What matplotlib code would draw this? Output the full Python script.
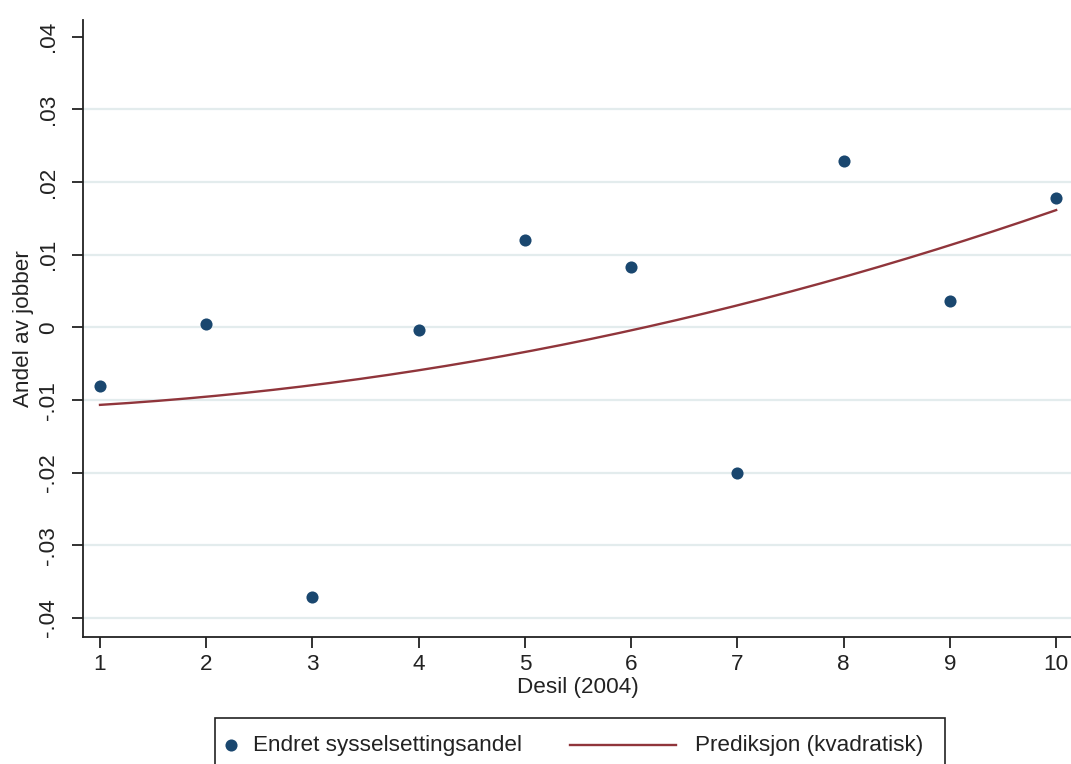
import numpy as np
import matplotlib
matplotlib.use("Agg")
import matplotlib.pyplot as plt
from matplotlib.lines import Line2D
from matplotlib.patches import Rectangle

plt.rcParams['font.family'] = ['Liberation Sans', 'DejaVu Sans']

# Data
deciles = [1, 2, 3, 4, 5, 6, 7, 8, 9, 10]
share_change = [-0.0080, 0.0005, -0.0371, -0.0004, 0.0120, 0.0083, -0.0200, 0.0229, 0.0036, 0.0178]
y_ticks = [-0.04, -0.03, -0.02, -0.01, 0.0, 0.01, 0.02, 0.03, 0.04]
y_ticklabels = ['-.04', '-.03', '-.02', '-.01', '0', '.01', '.02', '.03', '.04']
x_ticks = deciles

dot_color = '#1a476f'
line_color = '#90353b'
grid_color = '#e3eced'
text_color = '#222222'
FS = 16.2

fig = plt.figure(figsize=(10.71, 7.64), dpi=100)
ax = fig.add_axes([83/1071, 127/764, 1 - 83/1071 + 0.002, (637-20)/764])

# quadratic prediction
coef = np.polyfit(deciles, share_change, 2)
xs = np.linspace(1, 10, 200)
ax.plot(xs, np.polyval(coef, xs), color=line_color, lw=1.7, zorder=3)
ax.scatter(deciles, share_change, s=76, color=dot_color, zorder=4, linewidths=0)

ax.set_xlim(0.84, 10.16)
ax.set_ylim(-0.0426, 0.0423)
ax.set_yticks(y_ticks)
ax.set_yticklabels(y_ticklabels, rotation=90, va='center')
ax.set_xticks(x_ticks)
ax.set_xticklabels([str(v) for v in x_ticks])
for t in y_ticks:
    if t != 0.04:
        ax.axhline(t, color=grid_color, lw=1.6, zorder=1)

for s in ['top', 'right']:
    ax.spines[s].set_visible(False)
for s in ['left', 'bottom']:
    ax.spines[s].set_linewidth(1.3)
    ax.spines[s].set_color(text_color)
ax.tick_params(axis='both', direction='out', length=8, width=1.3, color=text_color,
               labelsize=FS, labelcolor=text_color)
ax.tick_params(axis='y', pad=9)
ax.tick_params(axis='x', pad=4.5)

ax.set_xlabel('Desil (2004)', fontsize=FS, color=text_color, labelpad=1.5)
ax.set_ylabel('Andel av jobber', fontsize=FS, color=text_color, labelpad=3)

# Legend (drawn manually to match the layout)
W, H = 1071, 764
def fx(px): return px / W
def fy(py): return 1 - py / H
fig.patches.append(Rectangle((fx(215), fy(790)), fx(945) - fx(215), fy(718) - fy(790),
                             transform=fig.transFigure, fill=False, ec=text_color, lw=1.2))
fig.lines.append(Line2D([fx(231)], [fy(745)], transform=fig.transFigure, marker='o',
                        ms=8.7, color=dot_color, mec=dot_color, mew=0, ls='none'))
fig.text(fx(253), fy(745), 'Endret sysselsettingsandel', fontsize=FS, color=text_color, va='center')
fig.lines.append(Line2D([fx(570), fx(676)], [fy(745), fy(745)], transform=fig.transFigure,
                        color=line_color, lw=1.7))
fig.text(fx(695), fy(745), 'Prediksjon (kvadratisk)', fontsize=FS, color=text_color, va='center')

fig.savefig('out.png', dpi=100)
